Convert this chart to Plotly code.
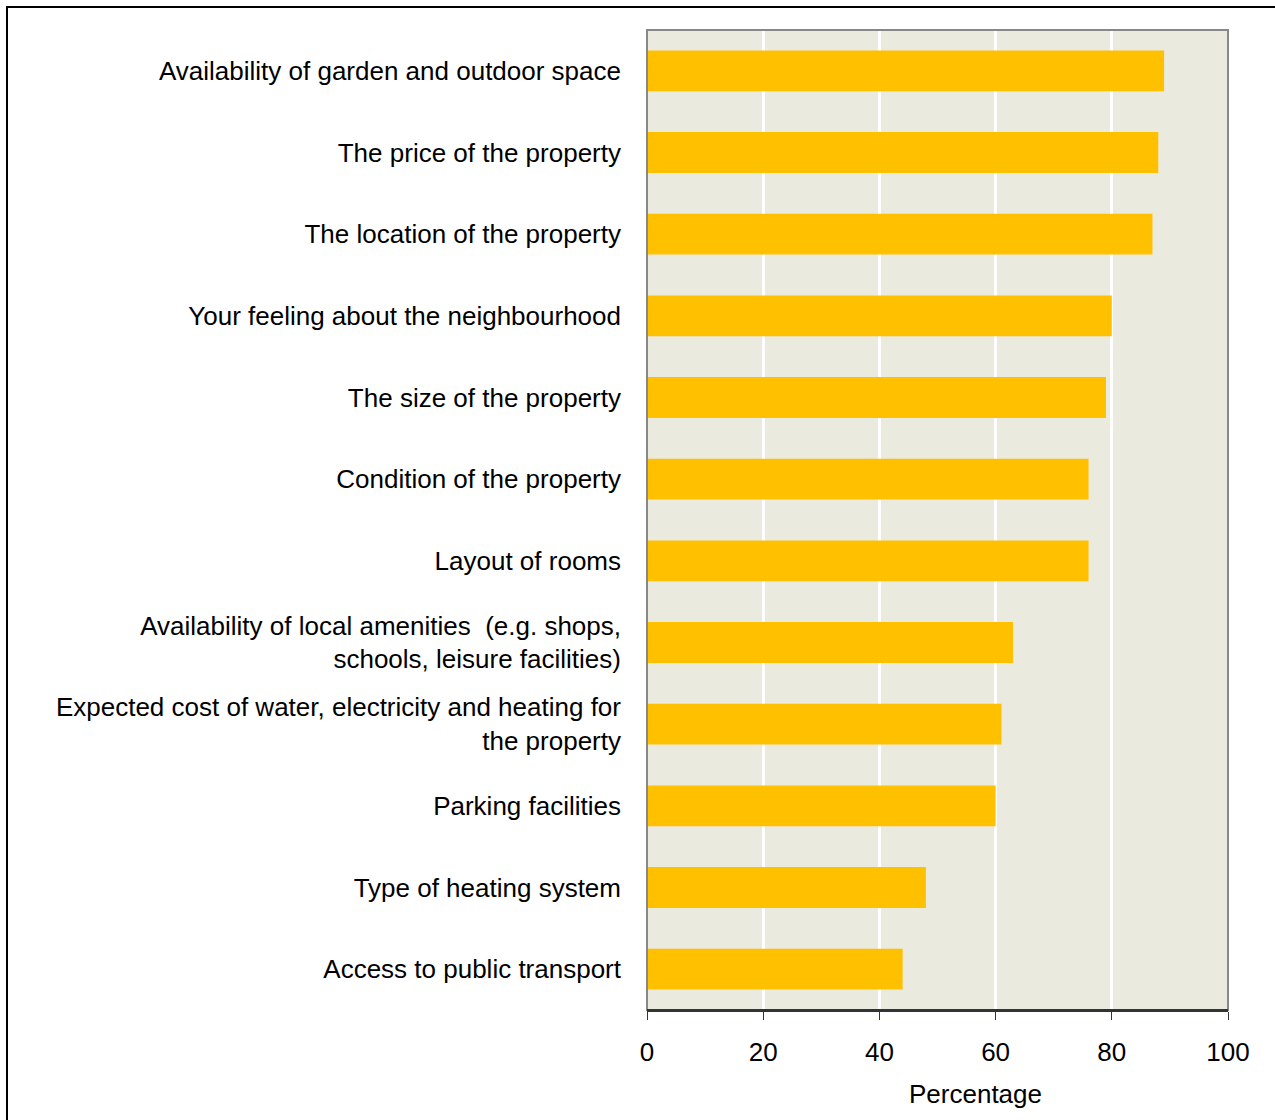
import plotly.graph_objects as go

# Survey factors, listed top to bottom
factors = [
    "Availability of garden and outdoor space",
    "The price of the property",
    "The location of the property",
    "Your feeling about the neighbourhood",
    "The size of the property",
    "Condition of the property",
    "Layout of rooms",
    "Availability of local amenities  (e.g. shops,<br>schools, leisure facilities)",
    "Expected cost of water, electricity and heating for<br>the property",
    "Parking facilities",
    "Type of heating system",
    "Access to public transport",
]
percentages = [89, 88, 87, 80, 79, 76, 76, 63, 61, 60, 48, 44]
x_ticks = [0, 20, 40, 60, 80, 100]
x_title = "Percentage"

W, H = 1275, 1120
L, R, T, B = 647, 47, 30, 110
pw, ph = W - L - R, H - T - B

def px_x(px):
    return (px - L) / pw

def px_y(py):
    return (H - B - py) / ph

font = "Liberation Sans, Arial, sans-serif"
fsize = 26

fig = go.Figure(
    go.Bar(
        x=percentages,
        y=factors,
        orientation="h",
        marker=dict(color="#FFC000", line=dict(width=0)),
        width=0.5,
    )
)

fig.update_layout(
    width=W,
    height=H,
    margin=dict(l=L, r=R, t=T, b=B),
    paper_bgcolor="white",
    plot_bgcolor="#EAEADF",
    showlegend=False,
    font=dict(family=font, size=fsize, color="black"),
    bargap=0.5,
)

fig.update_xaxes(
    range=[0, 100],
    tickvals=x_ticks,
    ticktext=[str(v) for v in x_ticks],
    showgrid=True,
    gridcolor="white",
    gridwidth=3,
    zeroline=False,
    showline=True,
    linecolor="#333333",
    linewidth=2,
    ticks="outside",
    ticklen=8,
    tickcolor="#333333",
    ticklabelstandoff=10,
    tickfont=dict(size=fsize, family=font, color="black"),
)

fig.update_yaxes(
    autorange="reversed",
    showgrid=False,
    zeroline=False,
    showline=False,
    ticks="",
    ticklabelstandoff=25,
    tickfont=dict(size=fsize, family=font, color="black"),
)

# Gray frame around the plotting area
fig.add_shape(
    type="rect", xref="paper", yref="paper",
    x0=0, x1=1, y0=0, y1=1,
    line=dict(color="#888888", width=2), layer="above",
)
# Redraw the bottom axis line in dark over the frame
fig.add_shape(
    type="line", xref="paper", yref="paper",
    x0=0, x1=1, y0=0, y1=0,
    line=dict(color="#333333", width=2), layer="above",
)
# Outer chart border (runs off the right and bottom edges)
fig.add_shape(
    type="rect", xref="paper", yref="paper",
    x0=px_x(7), x1=px_x(W + 20), y0=px_y(H + 20), y1=px_y(7),
    line=dict(color="black", width=2), layer="below",
)

fig.add_annotation(
    text=x_title, xref="paper", yref="paper",
    x=px_x(975), y=px_y(1094), xanchor="center", yanchor="middle",
    showarrow=False, font=dict(size=fsize, family=font, color="black"),
)

fig.write_html("out.html")
